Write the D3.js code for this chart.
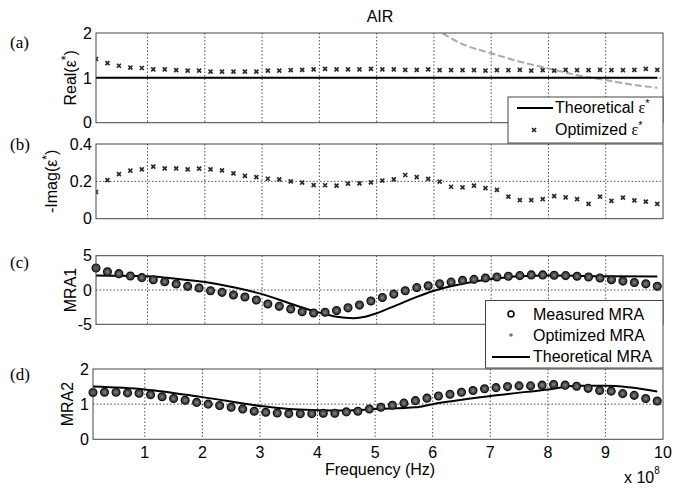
<!DOCTYPE html>
<html>
<head>
<meta charset="utf-8">
<script src="https://cdnjs.cloudflare.com/ajax/libs/d3/7.8.5/d3.min.js"></script>
<style>
  body { margin: 0; background: #fff; }
</style>
</head>
<body>
<div id="chart"></div>
<script>
// ---------------- DATA ----------------
// frequency, in units of 1e8 Hz
var freq = [0.1,0.3,0.5,0.7,0.9,1.1,1.3,1.5,1.7,1.9,2.1,2.3,2.5,2.7,2.9,3.1,3.3,3.5,3.7,3.9,4.1,
            4.3,4.5,4.7,4.9,5.1,5.3,5.5,5.7,5.9,6.1,6.3,6.5,6.7,6.9,7.1,7.3,7.5,7.7,7.9,8.1,8.3,8.5,
            8.7,8.9,9.1,9.3,9.5,9.7,9.9];

// (a) Real(eps*)
var realOpt = [1.42,1.33,1.27,1.23,1.22,1.19,1.19,1.17,1.16,1.16,1.14,1.14,1.14,1.14,1.14,1.16,1.16,1.17,1.18,1.19,1.2,
               1.19,1.19,1.19,1.2,1.19,1.19,1.18,1.18,1.19,1.17,1.17,1.17,1.17,1.16,1.17,1.17,1.18,1.16,1.17,1.16,
               1.18,1.17,1.17,1.18,1.17,1.17,1.18,1.2,1.18];
var realTheoF = [0.1, 9.9];
var realTheo = [1, 1];
var realGrayF = [6.0, 6.14, 6.5, 7.0, 7.5, 8.0, 8.5, 9.0, 9.5, 9.9];
var realGray = [2.1, 2.0, 1.75, 1.55, 1.36, 1.21, 1.06, 0.95, 0.84, 0.78];

// (b) -Imag(eps*)
var imagOpt = [0.143,0.207,0.239,0.257,0.264,0.279,0.27,0.27,0.264,0.268,0.264,0.259,0.243,0.229,0.223,0.214,0.211,0.2,0.193,0.18,0.179,
               0.177,0.188,0.189,0.195,0.204,0.211,0.234,0.223,0.213,0.198,0.171,0.168,0.177,0.164,0.154,0.118,0.1,0.1,0.105,
               0.121,0.114,0.105,0.079,0.118,0.095,0.113,0.098,0.091,0.079];

// (c) MRA1
var mra1Meas = [3.2,2.67,2.38,2.04,1.8,1.5,1.21,0.87,0.53,0.29,-0.1,-0.34,-0.73,-1.02,-1.46,-2.04,-2.38,-2.77,-3.16,-3.35,-3.25,
                -3.0,-2.6,-2.2,-1.6,-1.1,-0.6,-0.1,0.35,0.63,0.9,1.15,1.4,1.55,1.75,1.89,2.0,2.1,2.2,2.2,2.15,
                2.1,2.0,1.9,1.75,1.5,1.3,1.1,0.9,0.55];
var mra1Opt = mra1Meas; // optimized dots sit in the measured circles
var mra1TheoF = [0.1,1,1.5,2,2.5,3,3.5,4,4.3,4.6,4.8,5,5.35,5.7,6,6.5,7,7.5,8,9,9.9];
var mra1Theo = [2.1,2.0,1.65,1.15,0.4,-0.6,-2.0,-3.3,-3.9,-4.1,-3.9,-3.4,-2.2,-1.0,-0.1,0.9,1.6,2.0,2.1,2.0,1.95];

// (d) MRA2
var mra2Meas = [1.33,1.34,1.34,1.32,1.31,1.27,1.21,1.16,1.11,1.05,1.0,0.96,0.91,0.86,0.80,0.77,0.75,0.73,0.73,0.73,0.74,
                0.74,0.78,0.80,0.86,0.91,0.97,1.03,1.10,1.17,1.23,1.28,1.34,1.39,1.44,1.47,1.5,1.52,1.52,1.54,1.56,
                1.54,1.51,1.45,1.39,1.37,1.30,1.25,1.16,1.09];
var mra2Opt = mra2Meas;
var mra2TheoF = [0.1,1,2,3,3.5,4,4.5,5,5.7,6,7,8,8.5,9,9.4,9.9];
var mra2Theo = [1.5,1.42,1.2,0.95,0.86,0.83,0.82,0.86,0.91,1.0,1.23,1.42,1.52,1.52,1.48,1.36];

var xTicks = [1,2,3,4,5,6,7,8,9,10];

// ---------------- LAYOUT ----------------
var attrs = {
    svgWidth: 673,
    svgHeight: 489,
    right: 663,
    font: 'Liberation Sans, Arial, Helvetica, sans-serif',
    serif: 'Liberation Serif, Times New Roman, serif',
    fontSize: 16
};

var panels = [
    { tag: '(a)', tagY: 48, top: 33, bottom: 122.7, left: 96, y: [0, 2], yTicks: [0, 1, 2], grid: 1, label: 'Real(ε', labelX: 76 },
    { tag: '(b)', tagY: 150, top: 144, bottom: 218.7, left: 96, y: [0, 0.4], yTicks: [0, 0.2, 0.4], grid: 0.2, label: '-Imag(ε', labelX: 57 },
    { tag: '(c)', tagY: 268, top: 255.7, bottom: 324.3, left: 96, y: [-5, 5], yTicks: [-5, 0, 5], grid: 0, label: 'MRA1', labelX: 76 },
    { tag: '(d)', tagY: 380, top: 369, bottom: 439.3, left: 93, y: [0, 2], yTicks: [0, 1, 2], grid: 1, label: 'MRA2', labelX: 73 }
];

var svg = d3.select('#chart').append('svg')
    .attr('width', attrs.svgWidth)
    .attr('height', attrs.svgHeight)
    .attr('font-family', attrs.font)
    .attr('font-size', attrs.fontSize);

function zip(xs, ys) { return xs.map((v, i) => [v, ys[i]]); }

// ---------------- PANELS ----------------
panels.forEach(function (p, pi) {
    var x = d3.scaleLinear().domain([0.1, 10]).range([p.left, attrs.right]);
    var y = d3.scaleLinear().domain(p.y).range([p.bottom, p.top]);
    p.x = x; p.yScale = y;

    var g = svg.append('g').attr('class', 'panel');
    var clipId = 'clip' + pi;
    g.append('clipPath').attr('id', clipId).append('rect')
        .attr('x', p.left).attr('y', p.top)
        .attr('width', attrs.right - p.left).attr('height', p.bottom - p.top);

    // grid
    g.selectAll('.vgrid').data(xTicks.slice(0, -1)).enter().append('line')
        .attr('x1', d => x(d)).attr('x2', d => x(d))
        .attr('y1', p.top).attr('y2', p.bottom)
        .attr('stroke', '#222').attr('stroke-width', 0.8).attr('stroke-dasharray', '1.5,2');
    g.append('line')
        .attr('x1', p.left).attr('x2', attrs.right)
        .attr('y1', y(p.grid)).attr('y2', y(p.grid))
        .attr('stroke', '#222').attr('stroke-width', 0.8).attr('stroke-dasharray', '1.5,2');

    // y tick labels
    g.selectAll('.ytick').data(p.yTicks).enter().append('text')
        .attr('x', p.left - 4).attr('y', d => y(d))
        .attr('dy', '0.36em').attr('text-anchor', 'end')
        .text(d => d);

    // y label
    var yl = g.append('text')
        .attr('transform', 'translate(' + p.labelX + ',' + ((p.top + p.bottom) / 2) + ') rotate(-90)')
        .attr('text-anchor', 'middle')
        .text(p.label);
    if (pi < 2) {
        yl.append('tspan').attr('dy', -6).attr('font-size', 12).text('*');
        yl.append('tspan').attr('dy', 6).text(')');
    }

    // panel tag
    g.append('text')
        .attr('x', 10).attr('y', p.tagY)
        .attr('font-family', attrs.serif).attr('font-size', 17)
        .text(p.tag);

    p.plot = g.append('g').attr('clip-path', 'url(#' + clipId + ')');
    p.g = g;
});

// small x marker, drawn a bit heavy like the printed asterisks
function xMark(sel, pts, p) {
    sel.selectAll(null).data(pts).enter().append('path')
        .attr('d', d => {
            var cx = p.x(d[0]), cy = p.yScale(d[1]), s = 2;
            return 'M' + (cx - s) + ',' + (cy - s) + 'L' + (cx + s) + ',' + (cy + s) +
                   'M' + (cx - s) + ',' + (cy + s) + 'L' + (cx + s) + ',' + (cy - s);
        })
        .attr('stroke', '#2a2a2a').attr('stroke-width', 1.7);
}

// (a)
var pa = panels[0];
pa.plot.append('path')
    .attr('d', d3.line().x(d => pa.x(d[0])).y(d => pa.yScale(d[1])).curve(d3.curveMonotoneX)(zip(realGrayF, realGray)))
    .attr('fill', 'none').attr('stroke', '#aaa').attr('stroke-width', 2).attr('stroke-dasharray', '7,3');
pa.plot.append('path')
    .attr('d', d3.line().x(d => pa.x(d[0])).y(d => pa.yScale(d[1]))(zip(realTheoF, realTheo)))
    .attr('fill', 'none').attr('stroke', '#000').attr('stroke-width', 2);
xMark(pa.plot, zip(freq, realOpt), pa);

// (b)
var pb = panels[1];
xMark(pb.plot, zip(freq, imagOpt), pb);

// (c), (d)
[[panels[2], mra1Meas, mra1Opt, mra1TheoF, mra1Theo], [panels[3], mra2Meas, mra2Opt, mra2TheoF, mra2Theo]].forEach(function (s) {
    var p = s[0];
    p.plot.append('path')
        .attr('d', d3.line().x(d => p.x(d[0])).y(d => p.yScale(d[1])).curve(d3.curveMonotoneX)(zip(s[3], s[4])))
        .attr('fill', 'none').attr('stroke', '#000').attr('stroke-width', 2);
    p.g.selectAll(null).data(zip(freq, s[1])).enter().append('circle')
        .attr('cx', d => p.x(d[0])).attr('cy', d => p.yScale(d[1])).attr('r', 3.9)
        .attr('fill', '#4a4a4a').attr('stroke', '#111').attr('stroke-width', 1.3);
    p.g.selectAll(null).data(zip(freq, s[2])).enter().append('circle')
        .attr('cx', d => p.x(d[0])).attr('cy', d => p.yScale(d[1])).attr('r', 1.6)
        .attr('fill', '#777');
});

// axis boxes
panels.forEach(function (p) {
    p.g.append('rect')
        .attr('x', p.left).attr('y', p.top)
        .attr('width', attrs.right - p.left).attr('height', p.bottom - p.top)
        .attr('fill', 'none').attr('stroke', '#444').attr('stroke-width', 1);
});

// x tick labels on bottom panel
var pd = panels[3];
svg.selectAll('.xtick').data(xTicks).enter().append('text')
    .attr('x', d => pd.x(d)).attr('y', 458)
    .attr('text-anchor', 'middle')
    .text(d => d);

svg.append('text').attr('x', 380).attr('y', 475).attr('text-anchor', 'middle').text('Frequency (Hz)');
var ex = svg.append('text').attr('x', 624).attr('y', 483).text('x 10');
ex.append('tspan').attr('dy', -9).attr('font-size', 10).text('8');

// title
svg.append('text').attr('x', 380).attr('y', 22).attr('text-anchor', 'middle').text('AIR');

// ---------------- LEGENDS ----------------
// (a) legend
var la = svg.append('g');
la.append('rect').attr('x', 508).attr('y', 97).attr('width', 155).attr('height', 46)
    .attr('fill', '#fff').attr('stroke', '#444').attr('stroke-width', 1);
la.append('line').attr('x1', 517).attr('x2', 553).attr('y1', 108).attr('y2', 108)
    .attr('stroke', '#000').attr('stroke-width', 2);
var t1 = la.append('text').attr('x', 555).attr('y', 113).text('Theoretical ');
t1.append('tspan').attr('font-family', attrs.serif).text('ε');
t1.append('tspan').attr('dy', -6).attr('font-size', 11).text('*');
xMark(la, [[0, 0]], { x: () => 534, yScale: () => 130 });
var t2 = la.append('text').attr('x', 555).attr('y', 135).text('Optimized  ');
t2.append('tspan').attr('font-family', attrs.serif).text('ε');
t2.append('tspan').attr('dy', -6).attr('font-size', 11).text('*');

// (c) legend
var lc = svg.append('g');
lc.append('rect').attr('x', 485.5).attr('y', 300.5).attr('width', 177.5).attr('height', 67.5)
    .attr('fill', '#fff').attr('stroke', '#444').attr('stroke-width', 1);
lc.append('circle').attr('cx', 511).attr('cy', 314).attr('r', 3)
    .attr('fill', 'none').attr('stroke', '#000').attr('stroke-width', 1.5);
lc.append('text').attr('x', 533).attr('y', 320).text('Measured MRA');
lc.append('circle').attr('cx', 511).attr('cy', 335).attr('r', 1.8).attr('fill', '#777');
lc.append('text').attr('x', 533).attr('y', 341).text('Optimized MRA');
lc.append('line').attr('x1', 492).attr('x2', 530).attr('y1', 357).attr('y2', 357)
    .attr('stroke', '#000').attr('stroke-width', 2);
lc.append('text').attr('x', 533).attr('y', 362).text('Theoretical MRA');
</script>
</body>
</html>
